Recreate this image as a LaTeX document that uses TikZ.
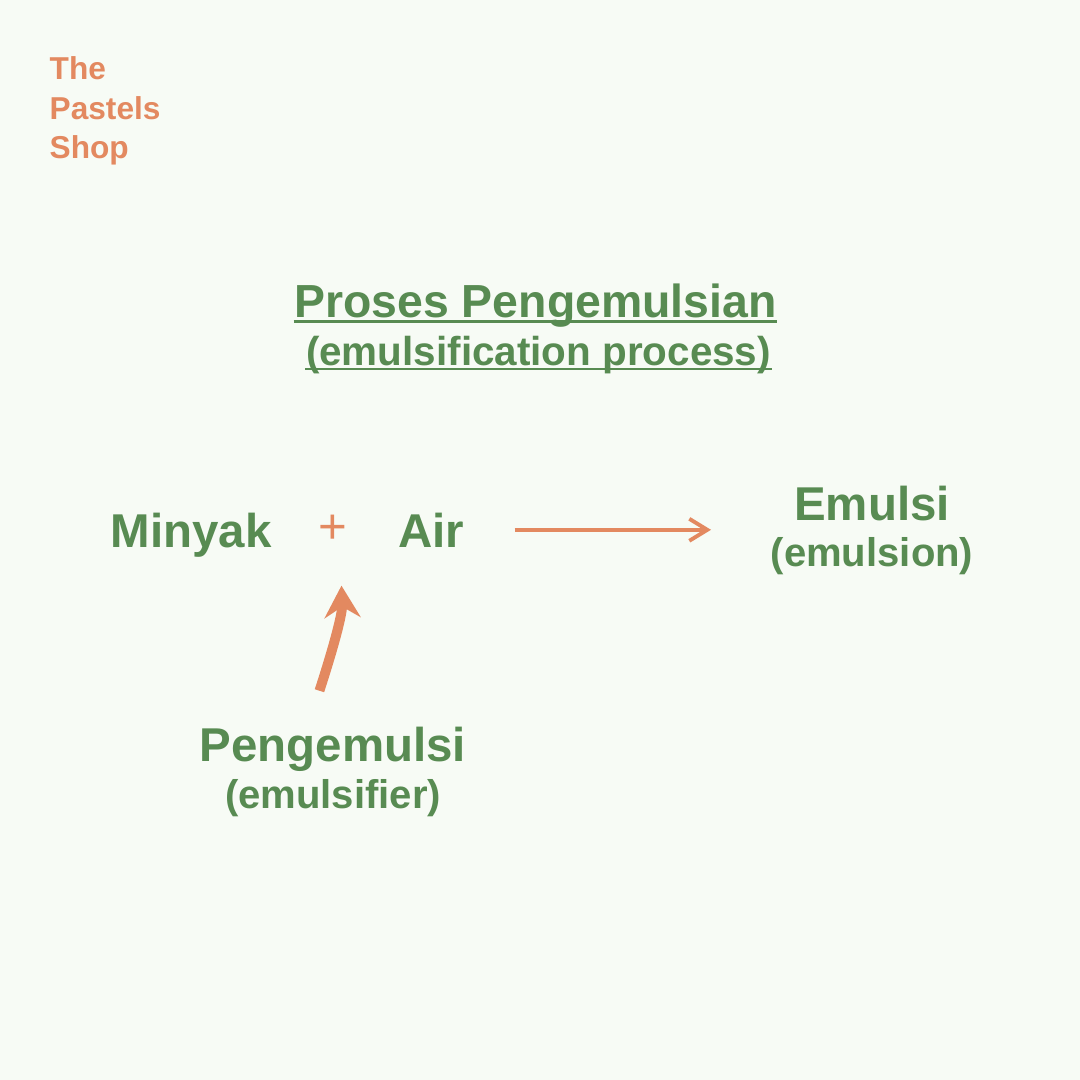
\documentclass[tikz,border=0pt]{standalone}
\usepackage{fontspec}
\setmainfont{Liberation Sans}
\usetikzlibrary{arrows.meta,positioning,calc}
\definecolor{leaf}{HTML}{588B52}
\definecolor{peach}{HTML}{E38960}
\definecolor{paper}{HTML}{F7FBF5}

\begin{document}
\begin{tikzpicture}[
  x=1cm,
  y=1cm,
  word/.style={text=leaf,inner sep=0pt,anchor=base,
    font=\fontsize{13.5}{16}\selectfont\bfseries},
  gloss/.style={text=leaf,inner sep=0pt,anchor=base,
    font=\fontsize{11.4}{14}\selectfont\bfseries},
  heading/.style={text=leaf,inner sep=0pt,anchor=base,
    font=\fontsize{13.2}{16}\selectfont\bfseries},
  subheading/.style={text=leaf,inner sep=0pt,anchor=base,
    font=\fontsize{11.5}{14}\selectfont\bfseries},
  brand/.style={text=peach,inner sep=0pt,anchor=base west,align=left,
    font=\fontsize{9}{11.3}\selectfont\bfseries},
  rule/.style={draw=leaf,line width=.85pt},
  flow/.style={draw=peach,line width=1.1pt,
    -{Straight Barb[length=1.8mm,width=2.2mm]}},
  lift/.style={draw=peach,line width=2.8pt,
    -{Stealth[length=3.2mm,width=3.6mm,inset=1.1mm]}}
]
\useasboundingbox (0,0) rectangle (10.8,-10.8);
\fill[paper] (0,0) rectangle (10.8,-10.8);

% brand
\node[brand] (shop) at (0.49,-1.59) {The\\Pastels\\Shop};

% heading
\node[heading] (title) at (5.355,-3.18) {Proses Pengemulsian};
\node[subheading] (subtitle) at (5.385,-3.65) {(emulsification process)};
\draw[rule] ([yshift=-0.035cm]title.base west) -- ([yshift=-0.035cm]title.base east);
\draw[rule] ([yshift=-0.04cm]subtitle.base west) -- ([yshift=-0.04cm]subtitle.base east);

% reaction
\node[word] (minyak) at (1.91,-5.47) {Minyak};
\node[word,text=peach,font=\fontsize{14}{16}\selectfont] (plus) at (3.33,-5.43) {+};
\node[word] (air) at (4.31,-5.47) {Air};
\node[word] (emulsi) at (8.72,-5.20) {Emulsi};
\node[gloss] (emulsion) at (8.72,-5.66) {(emulsion)};
\node[word] (pengemulsi) at (3.33,-7.61) {Pengemulsi};
\node[gloss] (emulsifier) at (3.33,-8.08) {(emulsifier)};

\draw[flow,shorten <=0.5cm,shorten >=0.59cm] (air.east) -- (air.east -| emulsion.west);
\draw[lift,shorten <=0.37cm,shorten >=0.42cm] ([xshift=-2.5mm]pengemulsi.north)
  to[out=72,in=-88] ([xshift=0.7mm]plus.south);

\end{tikzpicture}
\end{document}
